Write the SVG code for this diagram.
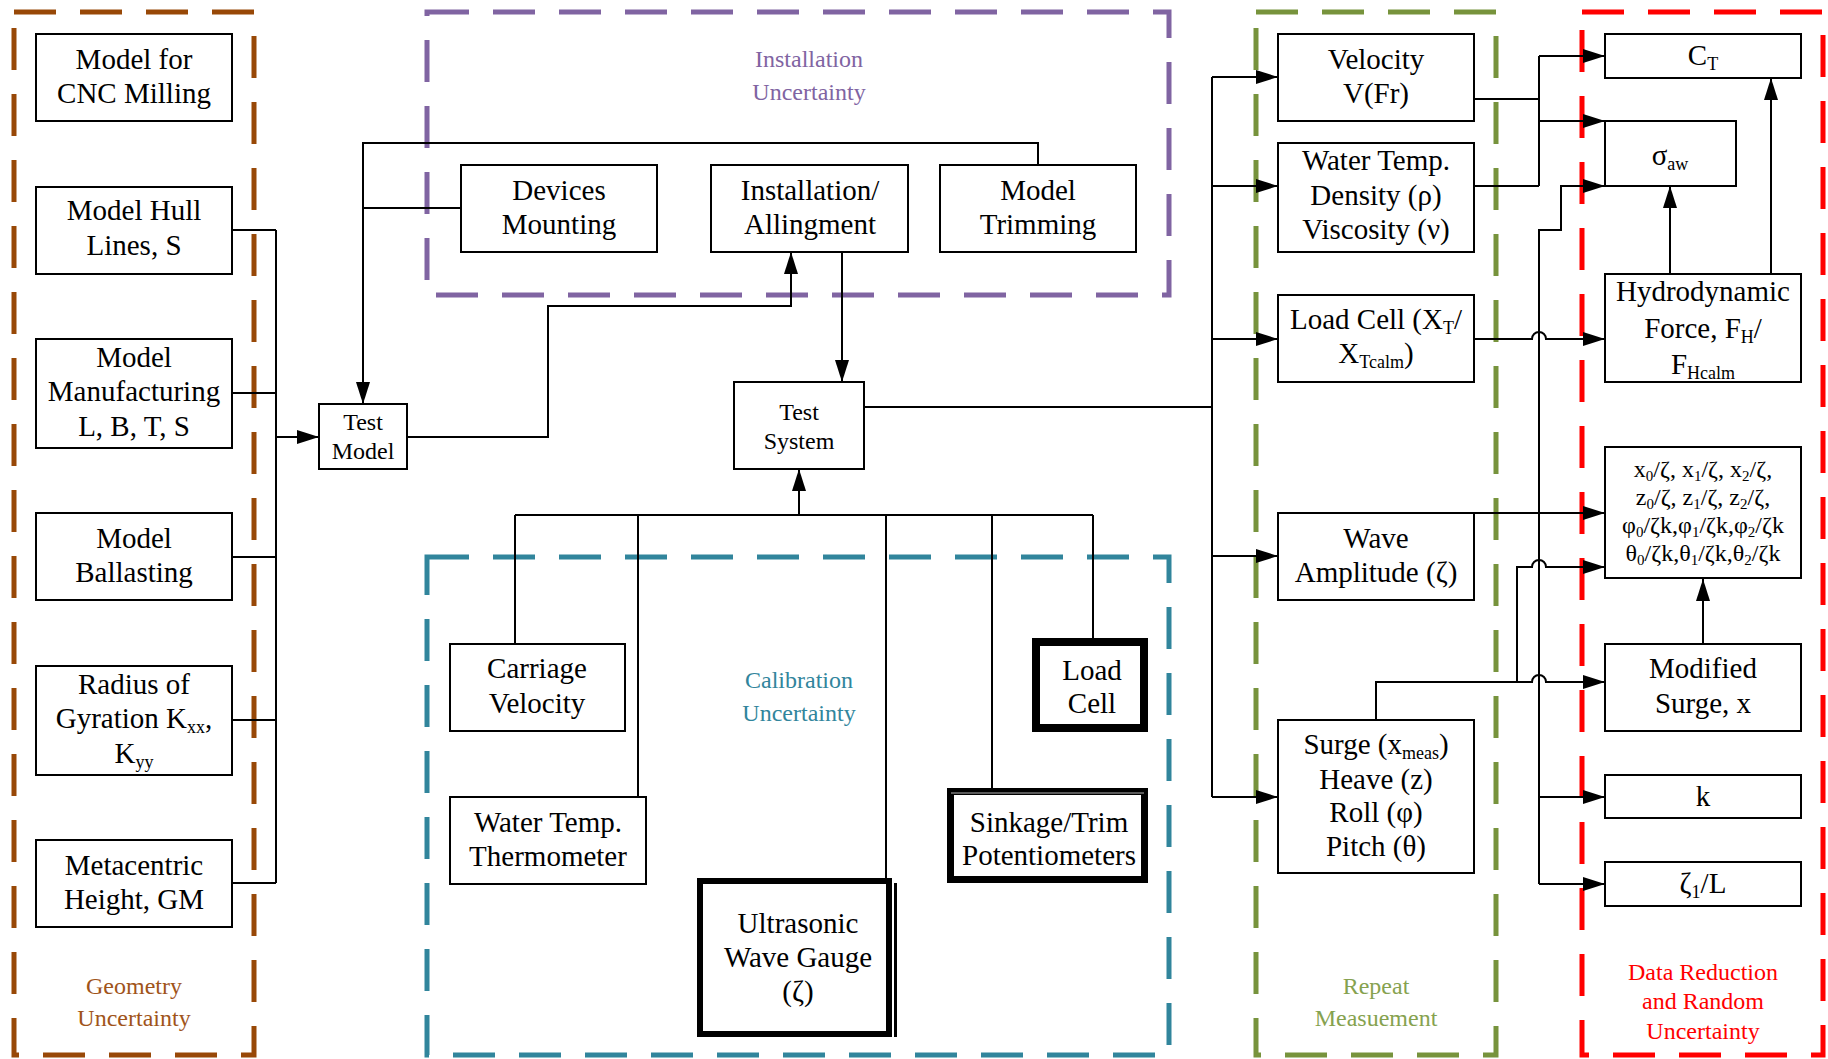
<svg xmlns="http://www.w3.org/2000/svg" width="1828" height="1059" viewBox="0 0 1828 1059">
<style>
.frame{fill:none;stroke-width:5;stroke-dasharray:42 24}
.box{fill:#fff;stroke:#000;stroke-width:2}
.thick{fill:#fff;stroke:#000}
.t{font-family:"Liberation Serif","Times New Roman",serif;font-size:29px;fill:#000;text-anchor:middle}
.ts{font-family:"Liberation Serif","Times New Roman",serif;font-size:24px;fill:#000;text-anchor:middle}
.lbl{font-family:"Liberation Serif","Times New Roman",serif;font-size:24px;text-anchor:middle}
.c{fill:none;stroke:#000;stroke-width:2}
.a{fill:none;stroke:#000;stroke-width:2;marker-end:url(#ah)}
</style>
<defs>
<marker id="ah" markerWidth="22" markerHeight="14" refX="22" refY="7" orient="auto" markerUnits="userSpaceOnUse">
<path d="M0,0 L22,7 L0,14 z" fill="#000"/>
</marker>
</defs>

<g id="frames">
<rect class="frame" x="14" y="12" width="240" height="1043" stroke="#984807"/>
<rect class="frame" x="427" y="12" width="742" height="283" stroke="#8064a2"/>
<rect class="frame" x="427" y="557" width="742" height="498" stroke="#31859c"/>
<rect class="frame" x="1256" y="12" width="240" height="1043" stroke="#77933c"/>
<rect class="frame" x="1582" y="12" width="241" height="1043" stroke="#ff0000"/>
<text class="lbl" fill="#a0541a" x="134" y="994">Geometry</text>
<text class="lbl" fill="#a0541a" x="134" y="1026">Uncertainty</text>
<text class="lbl" fill="#8064a2" x="809" y="67">Installation</text>
<text class="lbl" fill="#8064a2" x="809" y="100">Uncertainty</text>
<text class="lbl" fill="#31859c" x="799" y="688">Calibration</text>
<text class="lbl" fill="#31859c" x="799" y="721">Uncertainty</text>
<text class="lbl" fill="#86a24f" x="1376" y="994">Repeat</text>
<text class="lbl" fill="#86a24f" x="1376" y="1026">Measuement</text>
<text class="lbl" fill="#ff0000" x="1703" y="980">Data Reduction</text>
<text class="lbl" fill="#ff0000" x="1703" y="1009">and Random</text>
<text class="lbl" fill="#ff0000" x="1703" y="1039">Uncertainty</text>
</g>

<g id="connectors">
<path class="c" d="M232,230 H276 M232,393 H276 M232,557 H276 M232,720 H276 M232,883 H276 M276,230 V883"/>
<path class="a" d="M276,437 H319"/>
<path class="a" d="M1038,165 V143 H363 V404"/>
<path class="c" d="M461,208 H363"/>
<path class="a" d="M407,437 H548 V306 H791 V252"/>
<path class="a" d="M842,252 V382"/>
<path class="c" d="M515,515 H1093 M515,515 V644 M638,515 V797 M886,515 V881 M992,515 V790 M1093,515 V638"/>
<path class="a" d="M799,515 V469"/>
<path class="c" d="M864,407 H1212 M1212,77 V797"/>
<path class="a" d="M1212,77 H1278"/>
<path class="a" d="M1212,186 H1278"/>
<path class="a" d="M1212,339 H1278"/>
<path class="a" d="M1212,556 H1278"/>
<path class="a" d="M1212,797 H1278"/>
<path class="c" d="M1474,99 H1539 M1474,186 H1539 M1539,56 V186"/>
<path class="a" d="M1539,56 H1605"/>
<path class="a" d="M1539,121 H1605"/>
<path class="a" d="M1474,513 H1605"/>
<path class="a" d="M1539,884 V230 H1561 V186 H1605"/>
<path class="a" d="M1539,797 H1605"/>
<path class="a" d="M1539,884 H1605"/>
<path class="a" d="M1474,339 H1532 A7,7 0 0 1 1546,339 H1605"/>
<path class="a" d="M1376,720 V682 H1532 A7,7 0 0 1 1546,682 H1605"/>
<path class="a" d="M1517,682 V567 H1532 A7,7 0 0 1 1546,567 H1605"/>
<path class="a" d="M1703,644 V579"/>
<path class="a" d="M1670,274 V186"/>
<path class="a" d="M1771,274 V78"/>
</g>

<g id="n-cnc"><rect class="box" x="36" y="34" width="196" height="87"/>
<text class="t" x="134" y="69">Model for</text><text class="t" x="134" y="103">CNC Milling</text></g>
<g id="n-hull"><rect class="box" x="36" y="187" width="196" height="87"/>
<text class="t" x="134" y="220">Model Hull</text><text class="t" x="134" y="255">Lines, S</text></g>
<g id="n-manuf"><rect class="box" x="36" y="339" width="196" height="109"/>
<text class="t" x="134" y="367">Model</text><text class="t" x="134" y="401">Manufacturing</text><text class="t" x="134" y="436">L, B, T, S</text></g>
<g id="n-ballast"><rect class="box" x="36" y="513" width="196" height="87"/>
<text class="t" x="134" y="548">Model</text><text class="t" x="134" y="582">Ballasting</text></g>
<g id="n-radius"><rect class="box" x="36" y="666" width="196" height="109"/>
<text class="t" x="134" y="694">Radius of</text>
<text class="t" x="134" y="728">Gyration K<tspan font-size="18" dy="5">xx</tspan><tspan dy="-5">,</tspan></text>
<text class="t" x="134" y="763">K<tspan font-size="18" dy="5">yy</tspan></text></g>
<g id="n-meta"><rect class="box" x="36" y="840" width="196" height="87"/>
<text class="t" x="134" y="875">Metacentric</text><text class="t" x="134" y="909">Height, GM</text></g>

<g id="n-testmodel"><rect class="box" x="319" y="404" width="88" height="65"/>
<text class="ts" x="363" y="430">Test</text><text class="ts" x="363" y="459">Model</text></g>

<g id="n-devices"><rect class="box" x="461" y="165" width="196" height="87"/>
<text class="t" x="559" y="200">Devices</text><text class="t" x="559" y="234">Mounting</text></g>
<g id="n-install"><rect class="box" x="711" y="165" width="197" height="87"/>
<text class="t" x="810" y="200">Installation/</text><text class="t" x="810" y="234">Allingment</text></g>
<g id="n-trim"><rect class="box" x="940" y="165" width="196" height="87"/>
<text class="t" x="1038" y="200">Model</text><text class="t" x="1038" y="234">Trimming</text></g>

<g id="n-testsystem"><rect class="box" x="734" y="382" width="130" height="87"/>
<text class="ts" x="799" y="420">Test</text><text class="ts" x="799" y="449">System</text></g>

<g id="n-carriage"><rect class="box" x="450" y="644" width="175" height="87"/>
<text class="t" x="537" y="678">Carriage</text><text class="t" x="537" y="713">Velocity</text></g>
<g id="n-thermo"><rect class="box" x="450" y="797" width="196" height="87"/>
<text class="t" x="548" y="832">Water Temp.</text><text class="t" x="548" y="866">Thermometer</text></g>
<g id="n-ultrasonic"><rect class="thick" x="700" y="881" width="189" height="153" stroke-width="6"/>
<line x1="895.5" y1="883" x2="895.5" y2="1037" stroke="#000" stroke-width="3"/>
<text class="t" x="798" y="933">Ultrasonic</text><text class="t" x="798" y="967">Wave Gauge</text><text class="t" x="798" y="1001">(ζ)</text></g>
<g id="n-loadcell-cal"><rect class="thick" x="1036" y="642" width="108" height="86" stroke-width="8"/>
<text class="t" x="1092" y="680">Load</text><text class="t" x="1092" y="713">Cell</text></g>
<g id="n-sinkage"><rect class="thick" x="950.5" y="791.5" width="194" height="88" stroke-width="7"/>
<line x1="951" y1="793" x2="1144" y2="793" stroke="#777" stroke-width="1.5"/>
<text class="t" x="1049" y="832">Sinkage/Trim</text><text class="t" x="1049" y="865">Potentiometers</text></g>

<g id="n-velocity"><rect class="box" x="1278" y="34" width="196" height="87"/>
<text class="t" x="1376" y="69">Velocity</text><text class="t" x="1376" y="103">V(Fr)</text></g>
<g id="n-water"><rect class="box" x="1278" y="143" width="196" height="109"/>
<text class="t" x="1376" y="170">Water Temp.</text><text class="t" x="1376" y="205">Density (ρ)</text><text class="t" x="1376" y="239">Viscosity (ν)</text></g>
<g id="n-loadcell"><rect class="box" x="1278" y="295" width="196" height="87"/>
<text class="t" x="1376" y="329">Load Cell (X<tspan font-size="18" dy="5">T</tspan><tspan dy="-5">/</tspan></text>
<text class="t" x="1376" y="363">X<tspan font-size="18" dy="5">Tcalm</tspan><tspan dy="-5">)</tspan></text></g>
<g id="n-wave"><rect class="box" x="1278" y="513" width="196" height="87"/>
<text class="t" x="1376" y="548">Wave</text><text class="t" x="1376" y="582">Amplitude (ζ)</text></g>
<g id="n-surge"><rect class="box" x="1278" y="720" width="196" height="153"/>
<text class="t" x="1376" y="754">Surge (x<tspan font-size="18" dy="5">meas</tspan><tspan dy="-5">)</tspan></text>
<text class="t" x="1376" y="789">Heave (z)</text><text class="t" x="1376" y="822">Roll (φ)</text><text class="t" x="1376" y="856">Pitch (θ)</text></g>

<g id="n-ct"><rect class="box" x="1605" y="34" width="196" height="44"/>
<text class="t" x="1703" y="65">C<tspan font-size="18" dy="5">T</tspan></text></g>
<g id="n-saw"><rect class="box" x="1605" y="121" width="131" height="65"/>
<text class="t" x="1670" y="165">σ<tspan font-size="18" dy="5">aw</tspan></text></g>
<g id="n-hydro"><rect class="box" x="1605" y="274" width="196" height="108"/>
<text class="t" x="1703" y="301">Hydrodynamic</text>
<text class="t" x="1703" y="338">Force, F<tspan font-size="18" dy="5">H</tspan><tspan dy="-5">/</tspan></text>
<text class="t" x="1703" y="374">F<tspan font-size="18" dy="5">Hcalm</tspan></text></g>
<g id="n-ratios"><rect class="box" x="1605" y="447" width="196" height="131"/>
<text class="ts" x="1703" y="477">x<tspan font-size="15" dy="4">0</tspan><tspan dy="-4">/ζ, x</tspan><tspan font-size="15" dy="4">1</tspan><tspan dy="-4">/ζ, x</tspan><tspan font-size="15" dy="4">2</tspan><tspan dy="-4">/ζ,</tspan></text>
<text class="ts" x="1703" y="505">z<tspan font-size="15" dy="4">0</tspan><tspan dy="-4">/ζ, z</tspan><tspan font-size="15" dy="4">1</tspan><tspan dy="-4">/ζ, z</tspan><tspan font-size="15" dy="4">2</tspan><tspan dy="-4">/ζ,</tspan></text>
<text class="ts" x="1703" y="533">φ<tspan font-size="15" dy="4">0</tspan><tspan dy="-4">/ζk,φ</tspan><tspan font-size="15" dy="4">1</tspan><tspan dy="-4">/ζk,φ</tspan><tspan font-size="15" dy="4">2</tspan><tspan dy="-4">/ζk</tspan></text>
<text class="ts" x="1703" y="561">θ<tspan font-size="15" dy="4">0</tspan><tspan dy="-4">/ζk,θ</tspan><tspan font-size="15" dy="4">1</tspan><tspan dy="-4">/ζk,θ</tspan><tspan font-size="15" dy="4">2</tspan><tspan dy="-4">/ζk</tspan></text></g>
<g id="n-modsurge"><rect class="box" x="1605" y="644" width="196" height="87"/>
<text class="t" x="1703" y="678">Modified</text><text class="t" x="1703" y="713">Surge, x</text></g>
<g id="n-k"><rect class="box" x="1605" y="775" width="196" height="43"/>
<text class="t" x="1703" y="806">k</text></g>
<g id="n-zetaL"><rect class="box" x="1605" y="862" width="196" height="44"/>
<text class="t" x="1703" y="893">ζ<tspan font-size="18" dy="5">1</tspan><tspan dy="-5">/L</tspan></text></g>
</svg>
